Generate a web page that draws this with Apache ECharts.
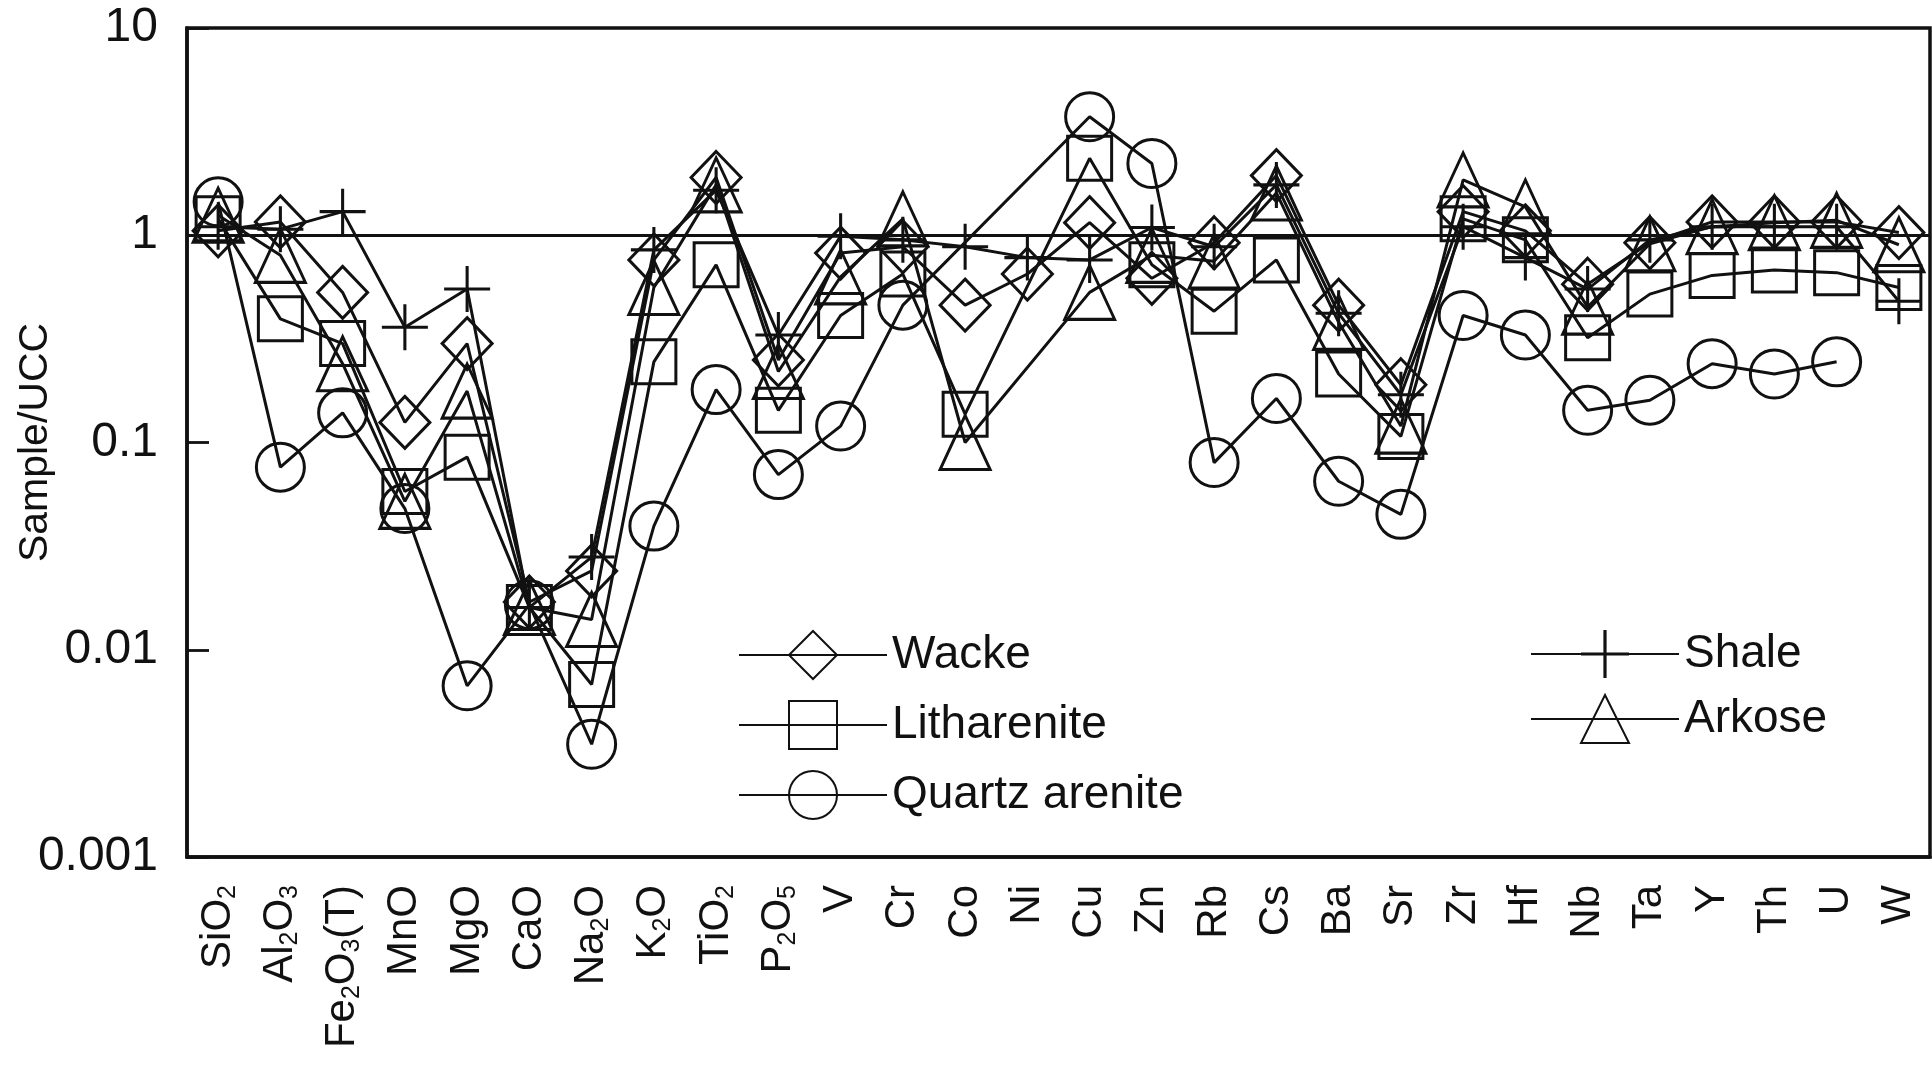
<!DOCTYPE html>
<html>
<head>
<meta charset="utf-8">
<title>Sample/UCC</title>
<script src="https://cdn.jsdelivr.net/npm/echarts@6/dist/echarts.min.js"></script>
<style>
  html, body { margin: 0; padding: 0; background: #fff; }
  #main { width: 1932px; height: 1068px; }
</style>
</head>
<body>
<div id="main"></div>
<script>
// element list along the x axis (digits are drawn as subscripts)
var categories = ['SiO2', 'Al2O3', 'Fe2O3(T)', 'MnO', 'MgO', 'CaO', 'Na2O', 'K2O', 'TiO2', 'P2O5',
    'V', 'Cr', 'Co', 'Ni', 'Cu', 'Zn', 'Rb', 'Cs', 'Ba', 'Sr', 'Zr', 'Hf', 'Nb', 'Ta', 'Y', 'Th', 'U', 'W'];

var yTickLabels = ['0.001', '0.01', '0.1', '1', '10'];

// sample / UCC ratios
var wacke = [1.05, 1.16, 0.53, 0.125, 0.30, 0.017, 0.024, 0.76, 1.9, 0.25,
    0.82, 0.88, 0.46, 0.65, 1.15, 0.62, 0.92, 1.94, 0.46, 0.19, 1.3, 1.05, 0.58, 0.92, 1.16, 1.16, 1.16, 1.03];
var litharenite = [1.2, 0.395, 0.30, 0.058, 0.085, 0.016, 0.0068, 0.245, 0.72, 0.143,
    0.41, 0.65, 0.137, null, 2.35, 0.72, 0.43, 0.76, 0.214, 0.107, 1.2, 0.95, 0.32, 0.52, 0.64, 0.68, 0.66, 0.56];
var quartzArenite = [1.45, 0.076, 0.139, 0.048, 0.0067, 0.0165, 0.0035, 0.0395, 0.18, 0.070,
    0.12, 0.46, null, null, 3.73, 2.22, 0.080, 0.163, 0.065, 0.045, 0.41, 0.33, 0.143, 0.160, 0.24, 0.214, 0.245, null];
var shale = [1.1, 1.07, 1.30, 0.36, 0.55, 0.016, 0.028, 0.85, 1.65, 0.33,
    0.99, 0.95, 0.88, 0.78, 0.76, 1.09, 0.88, 1.75, 0.42, 0.17, 1.1, 0.78, 0.55, 0.95, 1.1, 1.1, 1.1, 0.48];
var arkose = [1.25, 0.8, 0.24, 0.052, 0.177, 0.016, 0.014, 0.56, 1.75, 0.22,
    0.63, 1.2, 0.10, null, 0.53, 0.8, 0.75, 1.6, 0.38, 0.12, 1.85, 1.37, 0.45, 0.91, 1.10, 1.15, 1.18, 0.9];

var ink = '#111';
var font = 'Liberation Sans, Arial, sans-serif';
var plusPath = 'path://M22.4,0 H25.6 V22.4 H48 V25.6 H25.6 V48 H22.4 V25.6 H0 V22.4 H22.4 Z';

function makeSeries(name, data, symbol, size, filled) {
    return {
        name: name,
        type: 'line',
        data: data,
        connectNulls: true,
        symbol: symbol,
        symbolSize: size,
        showSymbol: true,
        lineStyle: {color: ink, width: 3},
        itemStyle: filled ? {color: ink, borderWidth: 0}
                          : {color: 'rgba(0,0,0,0)', borderColor: ink, borderWidth: 3},
        emphasis: {disabled: true},
        z: 3
    };
}

var seriesInfo = [
    makeSeries('Wacke', wacke, 'diamond', [50, 52], false),
    makeSeries('Litharenite', litharenite, 'rect', 44, false),
    makeSeries('Quartz arenite', quartzArenite, 'circle', 48, false),
    makeSeries('Shale', shale, plusPath, 46, true),
    makeSeries('Arkose', arkose, 'triangle', [50, 54], false)
];
// the UCC = 1 reference line
seriesInfo[0].markLine = {
    silent: true,
    symbol: ['none', 'none'],
    label: {show: false},
    lineStyle: {color: ink, width: 3, type: 'solid'},
    data: [{yAxis: 1}]
};

var legendBase = {
    orient: 'vertical',
    itemWidth: 148,
    itemHeight: 60,
    itemGap: 20,
    selectedMode: false,
    textStyle: {fontSize: 46, color: ink, fontFamily: font}
};

var option = {
    animation: false,
    backgroundColor: '#fff',
    grid: {
        left: 187, right: 2, top: 28, bottom: 211,
        outerBoundsMode: 'none', containLabel: false,
        show: true, borderColor: ink, borderWidth: 3.5
    },
    legend: [
        Object.assign({}, legendBase, {data: ['Wacke', 'Litharenite', 'Quartz arenite'], left: 733, top: 625}),
        Object.assign({}, legendBase, {data: ['Shale', 'Arkose'], left: 1525, top: 625, itemGap: 16})
    ],
    xAxis: {
        type: 'category',
        data: categories,
        boundaryGap: true,
        axisLine: {lineStyle: {color: ink, width: 3.5}},
        axisTick: {inside: true, length: 25, lineStyle: {color: ink, width: 2.8}},
        splitLine: {show: false},
        axisLabel: {
            rotate: 90,
            margin: 28,
            fontSize: 42,
            lineHeight: 44,
            color: ink,
            fontFamily: font,
            interval: 0,
            formatter: function (v) { return v.replace(/(\d)/g, '{s|$1}'); },
            rich: {
                s: {fontSize: 25, lineHeight: 14, verticalAlign: 'bottom', color: ink, fontFamily: font}
            }
        }
    },
    yAxis: {
        type: 'log',
        logBase: 10,
        min: 0.001,
        max: 10,
        name: 'Sample/UCC',
        nameLocation: 'middle',
        nameRotate: 90,
        nameGap: 131,
        nameMoveOverlap: false,
        nameTextStyle: {fontSize: 41, color: ink, fontFamily: font},
        axisLine: {show: true, lineStyle: {color: ink, width: 3.5}},
        axisTick: {show: true, inside: true, length: 22, lineStyle: {color: ink, width: 2.8}},
        splitLine: {show: false},
        axisLabel: {
            margin: 29,
            fontSize: 48,
            color: ink,
            fontFamily: font,
            formatter: function (v) {
                var k = Math.round(Math.log(v) / Math.LN10) + 3;
                return yTickLabels[k] !== undefined ? yTickLabels[k] : '';
            }
        }
    },
    series: seriesInfo
};

var myChart = echarts.init(document.getElementById('main'));
myChart.setOption(option);
</script>
</body>
</html>
